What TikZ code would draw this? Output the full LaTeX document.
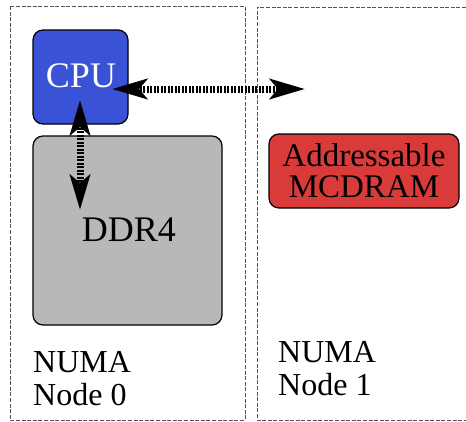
\documentclass[tikz,border=0pt]{standalone}
\usepackage{fontspec}
\setmainfont{Liberation Serif}
\usetikzlibrary{arrows.meta}
\definecolor{cpublue}{HTML}{3A53D6}
\definecolor{memgray}{HTML}{B8B8B8}
\definecolor{mcred}{HTML}{D93B3B}
\definecolor{dashgray}{HTML}{555555}
\tikzset{
  numabox/.style={draw=dashgray, line width=0.9pt, dash pattern=on 4pt off 1.6pt},
  unitbox/.style={draw=black, line width=1.2pt, rounded corners=10pt},
  bigtxt/.style={font=\fontsize{36}{38}\selectfont, inner sep=0pt},
  lbltxt/.style={font=\fontsize{32}{33}\selectfont, inner sep=0pt, align=left, anchor=base west},
  link/.style={line width=7pt, dash pattern=on 2pt off 1.5pt,
    {Stealth[length=35pt,width=20pt,inset=8pt]}-{Stealth[length=35pt,width=20pt,inset=8pt]}},
}
\begin{document}
\begin{tikzpicture}[x=1pt,y=-1pt]
\useasboundingbox (0,0) rectangle (466,421);
% NUMA regions
\draw[numabox] (10,6) rectangle (245,420);
\draw[numabox] (466,7) -- (257,7) -- (257,420) -- (466,420);
% units
\draw[unitbox, fill=memgray] (33,136) rectangle (222,325);
\draw[unitbox, fill=cpublue] (33,30) rectangle (128,124);
\draw[unitbox, fill=mcred] (269,134) rectangle (459,208);
\node[bigtxt, text=white] (cpu) at (81,76) {CPU};
\node[bigtxt] (ddr) at (129,230) {DDR4};
\node[font=\fontsize{33}{31}\selectfont, align=center, inner sep=0pt] (mcd) at (364,171) {Addressable\\MCDRAM};
% labels
\node[lbltxt] (n0) at (33,405) {NUMA\\Node 0};
\node[lbltxt] (n1) at (278,395) {NUMA\\Node 1};
% connectors
\coordinate (hA) at (112,89);
\coordinate (hB) at (305,89);
\coordinate (vA) at (80,100);
\coordinate (vB) at (80,210);
\draw[link] (hA) -- (hB);
\draw[link] (vA) -- (vB);
\end{tikzpicture}
\end{document}
